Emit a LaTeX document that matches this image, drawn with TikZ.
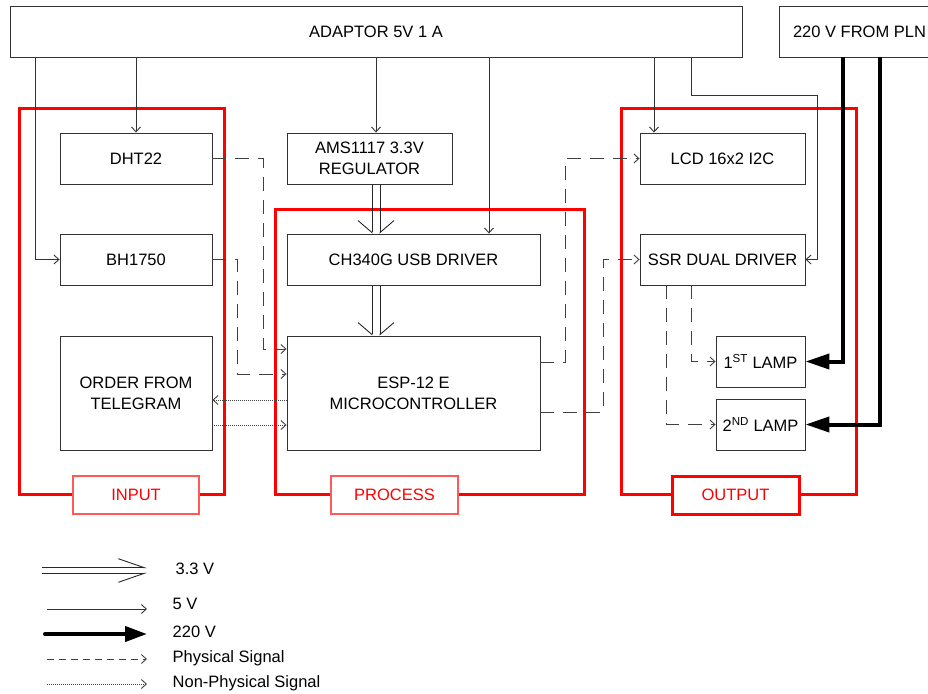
\documentclass[tikz,border=0pt]{standalone}
\usepackage{fontspec}
\setmainfont{Liberation Sans}
\usetikzlibrary{arrows.meta,calc}
\begin{document}
\begin{tikzpicture}[x=1pt,y=-1pt,
  font=\fontsize{16.5}{21}\selectfont,
  box/.style={draw=black!80,line width=0.9pt,inner sep=0pt,align=center},
  redbox/.style={draw=red,line width=3pt,inner sep=0pt},
  lab/.style={draw=red!65,line width=1.2pt,fill=white,text=red,inner sep=0pt,minimum width=127pt,minimum height=38pt},
  v5/.style={draw=black!80,line width=0.9pt,-{Straight Barb[length=5pt,width=9pt]}},
  v33l/.style={draw=black!85,line width=0.9pt,-{Straight Barb[right,length=12pt,width=28pt]}},
  v33r/.style={draw=black!85,line width=0.9pt,-{Straight Barb[left,length=12pt,width=28pt]}},
  v220/.style={draw=black,line width=4pt,-{Triangle[length=24pt,width=15pt]}},
  phys/.style={draw=black!75,line width=0.9pt,dash pattern=on 14pt off 9pt,-{Straight Barb[length=5pt,width=9pt]}},
  nonphys/.style={draw=black!75,line width=0.9pt,dash pattern=on 1pt off 1pt,-{Straight Barb[length=5pt,width=9pt]}},
  leg/.style={anchor=base west,inner sep=0pt}]
\useasboundingbox (0,0) rectangle (928,693);
\clip (0,0) rectangle (928,693);

% red group boxes
\node[redbox,minimum width=205pt,minimum height=386pt] (inbox) at (121.5,301) {};
\node[redbox,minimum width=309pt,minimum height=285pt] (procbox) at (429.5,351.5) {};
\node[redbox,minimum width=235pt,minimum height=386pt] (outbox) at (738.5,301) {};

% blocks
\node[box,minimum width=732pt,minimum height=51pt] (adaptor) at (376,31.5) {ADAPTOR 5V 1 A};
\node[box,minimum width=161pt,minimum height=51pt] (pln) at (859.5,31.5) {220 V FROM PLN};
\node[box,minimum width=152pt,minimum height=51pt] (dht) at (136,158.5) {DHT22};
\node[box,minimum width=152pt,minimum height=51pt] (bh) at (136,259.5) {BH1750};
\node[box,minimum width=152pt,minimum height=114pt] (tele) at (136,393) {ORDER FROM\\TELEGRAM};
\node[box,minimum width=165pt,minimum height=51pt] (ams) at (369.5,158.5) {AMS1117 3.3V\\REGULATOR};
\node[box,minimum width=253pt,minimum height=51pt] (ch) at (413.5,259.5) {CH340G USB DRIVER};
\node[box,minimum width=253pt,minimum height=114pt] (esp) at (413.5,393) {ESP-12 E\\MICROCONTROLLER};
\node[box,minimum width=165pt,minimum height=51pt] (lcd) at (722.5,158.5) {LCD 16x2 I2C};
\node[box,minimum width=165pt,minimum height=51pt] (ssr) at (722.5,259.5) {SSR DUAL DRIVER};
\node[box,minimum width=89pt,minimum height=51pt] (lamp1) at (760.5,361.5) {1\textsuperscript{ST} LAMP};
\node[box,minimum width=89pt,minimum height=51pt] (lamp2) at (760.5,424.5) {2\textsuperscript{ND} LAMP};

% column / bend coordinates
\coordinate (c35) at (35,0);
\coordinate (c376) at (376,0);
\coordinate (c489) at (489,0);
\coordinate (c654) at (654,0);
\coordinate (c691) at (691,0);
\coordinate (k1) at (817,95);
\coordinate (c372) at (372,0);
\coordinate (c380) at (380,0);
\coordinate (c843) at (843,0);
\coordinate (c880) at (880,0);
\coordinate (e1) at (263,349);
\coordinate (e2) at (237,374);
\coordinate (f1) at (565,362);
\coordinate (f2) at (603,412);
\coordinate (g1) at (691,362);
\coordinate (g2) at (666,425);
\coordinate (h1) at (0,400);
\coordinate (h2) at (0,425);

% 5 V
\draw[v5] (adaptor.south -| c35) |- (bh.west);
\draw[v5] (adaptor.south -| dht.north) -- (dht.north);
\draw[v5] (adaptor.south -| c376) -- (ams.north -| c376);
\draw[v5] (adaptor.south -| c489) -- (ch.north -| c489);
\draw[v5] (adaptor.south -| c654) -- (lcd.north -| c654);
\draw[v5] (adaptor.south -| c691) |- (k1) |- (ssr.east);

% 3.3 V
\draw[v33l] (ams.south -| c372) -- (ch.north -| c372);
\draw[v33r] (ams.south -| c380) -- (ch.north -| c380);
\draw[v33l] (ch.south -| c372) -- (esp.north -| c372);
\draw[v33r] (ch.south -| c380) -- (esp.north -| c380);

% physical signals
\draw[phys] (dht.east) -| (e1) -- (esp.west |- e1);
\draw[phys] (bh.east) -| (e2) -- (esp.west |- e2);
\draw[phys] (esp.east |- f1) -- (f1) |- (lcd.west);
\draw[phys] (esp.east |- f2) -- (f2) |- (ssr.west);
\draw[phys] (ssr.south -| g1) |- (lamp1.west);
\draw[phys] (ssr.south -| g2) |- (lamp2.west);

% non-physical signals
\draw[nonphys] (esp.west |- h1) -- (tele.east |- h1);
\draw[nonphys] (tele.east |- h2) -- (esp.west |- h2);

% 220 V
\draw[v220] (pln.south -| c843) |- (lamp1.east);
\draw[v220] (pln.south -| c880) |- (lamp2.east);

% group labels
\node[lab,minimum width=126pt] (inlab) at (136,495) {INPUT};
\node[lab] (proclab) at (394.5,495) {PROCESS};
\node[lab,draw=red,line width=3pt] (outlab) at (735.5,495) {OUTPUT};

% legend
\coordinate (la1) at (42,567.7); \coordinate (lb1) at (147,567.7);
\coordinate (la2) at (42,573.3); \coordinate (lb2) at (147,573.3);
\draw[draw=black!85,line width=0.9pt,-{Straight Barb[left,length=26pt,width=18pt]}] (la1) -- (lb1);
\draw[draw=black!85,line width=0.9pt,-{Straight Barb[right,length=26pt,width=18pt]}] (la2) -- (lb2);
\node[leg] (t33) at (175.5,574) {3.3 V};
\coordinate (la3) at (47,609); \coordinate (lb3) at (147,609);
\draw[v5] (la3) -- (lb3);
\node[leg] (t5) at (172.5,609) {5 V};
\coordinate (la4) at (45,634); \coordinate (lb4) at (147,634);
\draw[v220,line cap=round,-{Triangle[length=22pt,width=15pt]}] (la4) -- (lb4);
\node[leg] (t220) at (172.5,637) {220 V};
\coordinate (la5) at (47,659); \coordinate (lb5) at (147,659);
\draw[phys,dash pattern=on 7pt off 5pt] (la5) -- (lb5);
\node[leg] (tphys) at (172.5,662.5) {Physical Signal};
\coordinate (la6) at (47,684); \coordinate (lb6) at (147,684);
\draw[nonphys] (la6) -- (lb6);
\node[leg] (tnon) at (172.5,687.5) {Non-Physical Signal};
\end{tikzpicture}
\end{document}
